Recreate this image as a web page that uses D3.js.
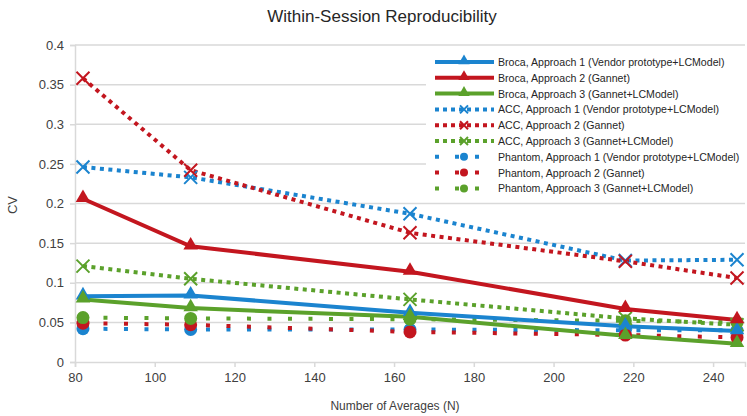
<!DOCTYPE html>
<html>
<head>
<meta charset="utf-8">
<script src="https://cdnjs.cloudflare.com/ajax/libs/d3/7.8.5/d3.min.js"></script>
<style>
  body { margin: 0; background: #fff; }
  svg text { font-family: "Liberation Sans", Arial, sans-serif; fill: #404040; }
</style>
</head>
<body>
<div id="chart"></div>
<script>
// number of averages (x values)
var averages = [82, 109, 164, 218, 246];

var seriesNames = [
    "Broca, Approach 1 (Vendor prototype+LCModel)",
    "Broca, Approach 2 (Gannet)",
    "Broca, Approach 3 (Gannet+LCModel)",
    "ACC, Approach 1 (Vendor prototype+LCModel)",
    "ACC, Approach 2 (Gannet)",
    "ACC, Approach 3 (Gannet+LCModel)",
    "Phantom, Approach 1 (Vendor prototype+LCModel)",
    "Phantom, Approach 2 (Gannet)",
    "Phantom, Approach 3 (Gannet+LCModel)"
];

var brocaA1 = [0.083, 0.084, 0.062, 0.045, 0.039];
var brocaA2 = [0.206, 0.146, 0.114, 0.067, 0.053];
var brocaA3 = [0.079, 0.068, 0.057, 0.033, 0.023];
var accA1 = [0.246, 0.233, 0.187, 0.128, 0.129];
var accA2 = [0.358, 0.242, 0.163, 0.127, 0.106];
var accA3 = [0.121, 0.105, 0.079, 0.055, 0.047];
var phantomA1 = [0.042, 0.041, 0.041, 0.040, 0.040];
var phantomA2 = [0.049, 0.047, 0.038, 0.034, 0.031];
var phantomA3 = [0.056, 0.055, 0.054, 0.052, 0.050];

var yTicks = [0, 0.05, 0.1, 0.15, 0.2, 0.25, 0.3, 0.35, 0.4];
var xTicks = [80, 100, 120, 140, 160, 180, 200, 220, 240];

var blue = "#1b84cf", red = "#c3161f", green = "#5ba12b";

var series = [
    {name: seriesNames[0], values: brocaA1, color: blue, kind: "solid", marker: "triangle"},
    {name: seriesNames[1], values: brocaA2, color: red, kind: "solid", marker: "triangle"},
    {name: seriesNames[2], values: brocaA3, color: green, kind: "solid", marker: "triangle"},
    {name: seriesNames[3], values: accA1, color: blue, kind: "dot", marker: "cross"},
    {name: seriesNames[4], values: accA2, color: red, kind: "dot", marker: "cross"},
    {name: seriesNames[5], values: accA3, color: green, kind: "dot", marker: "cross"},
    {name: seriesNames[6], values: phantomA1, color: blue, kind: "sparse", marker: "circle"},
    {name: seriesNames[7], values: phantomA2, color: red, kind: "sparse", marker: "circle"},
    {name: seriesNames[8], values: phantomA3, color: green, kind: "sparse", marker: "circle"}
];

var width = 747,
    height = 416,
    margin = {top: 45, right: 2, bottom: 54, left: 75};

var svg = d3.select("#chart").append("svg")
    .attr("width", width)
    .attr("height", height);

var x = d3.scaleLinear().domain([80, 248]).range([margin.left, width - margin.right]);
var y = d3.scaleLinear().domain([0, 0.4]).range([height - margin.bottom, margin.top]);

//gridlines
svg.append("g")
    .selectAll("line")
    .data(yTicks.slice(1))
    .enter().append("line")
    .attr("x1", margin.left)
    .attr("x2", width - margin.right)
    .attr("y1", function(d) { return y(d); })
    .attr("y2", function(d) { return y(d); })
    .attr("stroke", "#d9d9d9")
    .attr("stroke-width", 1.5);

// axes
var yAxis = svg.append("g")
    .attr("transform", "translate(" + margin.left + ",0)")
    .call(d3.axisLeft(y).tickValues(yTicks).tickSize(5).tickPadding(6)
        .tickFormat(function(d) { return d3.format("")(+d.toFixed(2)); }));

var xAxis = svg.append("g")
    .attr("transform", "translate(0," + y(0) + ")")
    .call(d3.axisBottom(x).tickValues(xTicks).tickSize(5).tickPadding(6));

[yAxis, xAxis].forEach(function(a) {
    a.select(".domain").attr("stroke", "#d9d9d9").attr("stroke-width", 1.5);
    a.selectAll(".tick line").attr("stroke", "#d9d9d9").attr("stroke-width", 1.5);
    a.selectAll(".tick text").style("font-size", "13px").style("fill", "#404040");
});

// lines
var line = d3.line()
    .x(function(d, i) { return x(averages[i]); })
    .y(function(d) { return y(d); });

function dashFor(kind) {
    if (kind === "dot") return "4,4.5";
    if (kind === "sparse") return "4,16.5";
    return null;
}

function drawMarker(g, type, color, cx, cy, size) {
    if (type === "triangle") {
        g.append("path")
            .attr("d", d3.symbol().type(d3.symbolTriangle).size(size * 7)())
            .attr("transform", "translate(" + cx + "," + (cy - 1) + ")")
            .attr("fill", color);
    } else if (type === "cross") {
        var s = size / 2;
        g.append("path")
            .attr("d", "M" + (cx - s) + "," + (cy - s) + "L" + (cx + s) + "," + (cy + s) +
                       "M" + (cx - s) + "," + (cy + s) + "L" + (cx + s) + "," + (cy - s))
            .attr("stroke", color)
            .attr("stroke-width", 2)
            .attr("fill", "none");
    } else {
        g.append("circle")
            .attr("cx", cx).attr("cy", cy)
            .attr("r", size / 2)
            .attr("fill", color);
    }
}

// draw phantom first, then ACC, then Broca on top
var order = [6, 7, 8, 3, 4, 5, 0, 1, 2];
var plot = svg.append("g");

order.forEach(function(k) {
    var s = series[k];
    plot.append("path")
        .datum(s.values)
        .attr("d", line)
        .attr("fill", "none")
        .attr("stroke", s.color)
        .attr("stroke-width", 4)
        .attr("stroke-dasharray", dashFor(s.kind));
});

order.forEach(function(k) {
    var s = series[k];
    s.values.forEach(function(v, i) {
        drawMarker(plot, s.marker, s.color, x(averages[i]), y(v), 13);
    });
});

// legend
var legendX = 426, legendY = 52, rowH = 15.8;
var legend = svg.append("g");

legend.append("rect")
    .attr("x", legendX)
    .attr("y", legendY)
    .attr("width", width - legendX)
    .attr("height", rowH * 9 + 6)
    .attr("fill", "#fff");

series.forEach(function(s, i) {
    var ry = legendY + 10 + i * rowH;
    var row = legend.append("g");
    row.append("line")
        .attr("x1", legendX + 9)
        .attr("x2", legendX + 68)
        .attr("y1", ry)
        .attr("y2", ry)
        .attr("stroke", s.color)
        .attr("stroke-width", 4)
        .attr("stroke-dasharray", s.kind === "solid" ? null : (s.kind === "dot" ? "4,4" : "4,16"));
    drawMarker(row, s.marker, s.color, legendX + 38, ry, 8);
    row.append("text")
        .attr("x", legendX + 72)
        .attr("y", ry + 4)
        .style("font-size", "10.6px")
        .style("fill", "#262626")
        .text(s.name);
});

// titles
svg.append("text")
    .attr("x", 382)
    .attr("y", 22)
    .attr("text-anchor", "middle")
    .style("font-size", "17px")
    .style("fill", "#262626")
    .text("Within-Session Reproducibility");

svg.append("text")
    .attr("transform", "translate(17," + 205 + ") rotate(-90)")
    .attr("text-anchor", "middle")
    .style("font-size", "13px")
    .text("CV");

svg.append("text")
    .attr("x", 395)
    .attr("y", 410)
    .attr("text-anchor", "middle")
    .style("font-size", "12px")
    .text("Number of Averages (N)");
</script>
</body>
</html>
